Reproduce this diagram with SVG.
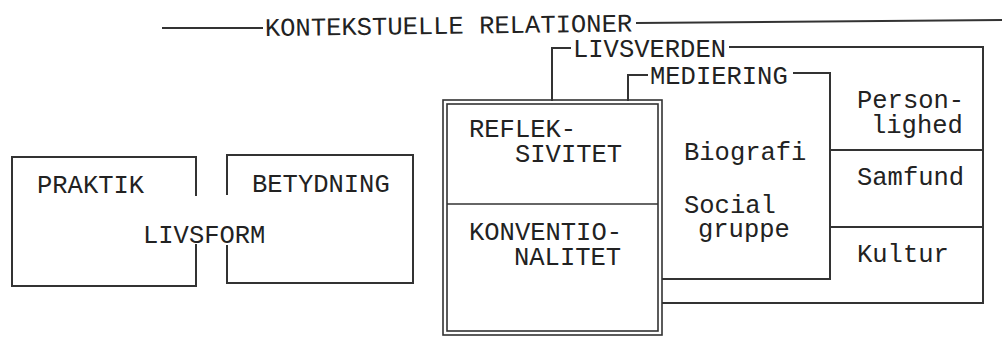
<svg xmlns="http://www.w3.org/2000/svg" width="1002" height="350" viewBox="0 0 1002 350">
  <style>
    .t { font-family: "Liberation Mono", "DejaVu Sans Mono", monospace; font-size: 25.5px; fill: #222; }
    .ln { fill: none; stroke: #333; stroke-width: 2; stroke-linecap: square; }
    .thin { fill: none; stroke: #333; stroke-width: 1.6; }
  </style>
  <rect width="1002" height="350" fill="#fff"/>

  <g id="kontekstuelle-relationer">
    <path class="ln" d="M163,28 H262"/>
    <text class="t" x="265" y="36" transform="rotate(-0.7 265 36)">KONTEKSTUELLE RELATIONER</text>
    <path class="ln" d="M637,23 L1002,20"/>
  </g>

  <g id="praktik">
    <path class="ln" d="M196,195 V157 H12 V286 H196 V245"/>
    <text class="t" x="37" y="193">PRAKTIK</text>
  </g>

  <g id="betydning">
    <path class="ln" d="M227,194 V155 H413 V283 H227 V246"/>
    <text class="t" x="252" y="192">BETYDNING</text>
  </g>

  <g id="livsform">
    <text class="t" x="143" y="243">LIVSFORM</text>
  </g>

  <g id="refleksivitet-konventionalitet">
    <rect class="thin" x="443" y="100" width="219" height="235"/>
    <rect class="thin" x="447" y="104" width="211" height="227"/>
    <path class="thin" d="M447,204 H658"/>
    <text class="t"><tspan x="469" y="137">REFLEK-</tspan><tspan x="515" y="162">SIVITET</tspan></text>
    <text class="t"><tspan x="469" y="240">KONVENTIO-</tspan><tspan x="514" y="265">NALITET</tspan></text>
  </g>

  <g id="livsverden">
    <text class="t" x="573" y="57">LIVSVERDEN</text>
  </g>

  <g id="mediering">
    <text class="t" x="650" y="84">MEDIERING</text>
    <text class="t" x="684" y="160">Biografi</text>
    <text class="t"><tspan x="684" y="213">Social</tspan><tspan x="698" y="237">gruppe</tspan></text>
  </g>

  <g id="personlighed">
    <text class="t"><tspan x="857" y="108">Person-</tspan><tspan x="871" y="133">lighed</tspan></text>
  </g>
  <g id="samfund">
    <text class="t" x="857" y="185">Samfund</text>
  </g>
  <g id="kultur">
    <text class="t" x="857" y="262">Kultur</text>
  </g>

  <g id="connectors">
    <path class="ln" d="M552,100 V48 H570"/>
    <path class="ln" d="M730,47 H983 V303 H663"/>
    <path class="ln" d="M628,100 V75 H647"/>
    <path class="ln" d="M794,73 H830 V279 H663"/>
    <path class="ln" d="M830,150 H983"/>
    <path class="ln" d="M830,227 H983"/>
  </g>
</svg>
